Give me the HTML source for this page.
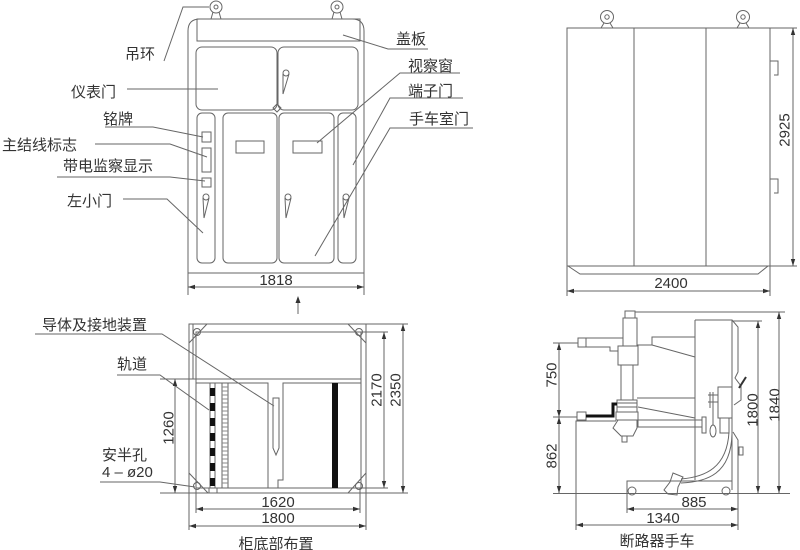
<!DOCTYPE html>
<html><head><meta charset="utf-8"><style>
html,body{margin:0;padding:0;background:#fff;}
svg{display:block;}
text{font-family:"Liberation Sans","Noto Sans CJK SC",sans-serif;fill:#333;font-size:15px;}
</style></head><body>
<svg width="800" height="550" viewBox="0 0 800 550" xmlns="http://www.w3.org/2000/svg">
<rect width="800" height="550" fill="#fff"/>
<g stroke="#666" stroke-width="1" fill="none">
<!-- ===== FRONT VIEW ===== -->
<circle cx="216" cy="7" r="6"/><circle cx="216" cy="7" r="2"/>
<path d="M211,19 L213,12 M221,19 L219,12"/>
<circle cx="337" cy="7" r="6"/><circle cx="337" cy="7" r="2"/>
<path d="M332,19 L334,12 M342,19 L340,12"/>
<path d="M188,295 V31 Q188,19 200,19 H352 Q364,19 364,31 V295"/>
<line x1="188" y1="273" x2="364" y2="273"/>
<rect x="197" y="19" width="163" height="22"/>
<rect x="196" y="47" width="81" height="63" rx="6"/>
<rect x="278" y="47" width="80" height="63" rx="6"/>
<path d="M277,104 L281,108 L277,112 L273,108 Z"/>
<rect x="197" y="113" width="18" height="150" rx="5"/>
<rect x="223" y="113" width="54" height="150" rx="5"/>
<rect x="279" y="113" width="55" height="150" rx="5"/>
<rect x="338" y="113" width="18" height="150" rx="5"/>
<rect x="236" y="141" width="28" height="12"/>
<rect x="293" y="141" width="29" height="12"/>
<rect x="202" y="132" width="9" height="10"/>
<rect x="202" y="148" width="9" height="24"/>
<rect x="202" y="178" width="9" height="9"/>
<!-- handles -->
<circle cx="206" cy="197" r="3"/><path d="M203,198 L204,218 L209,198"/>
<circle cx="288" cy="197" r="3"/><path d="M285,198 L286,218 L291,198"/>
<circle cx="346" cy="197" r="3"/><path d="M343,198 L344,218 L349,198"/>
<circle cx="286" cy="73" r="3"/><path d="M283,74 L283,94 L289,74"/>
<!-- leaders front -->
<path d="M164,61 L183,7 H209"/>
<path d="M127,89 H218"/>
<path d="M105,127 H153 L203,137"/>
<path d="M95,144 H170 L207,157"/>
<path d="M57,177 H170 L205,181"/>
<path d="M123,199 H167 L203,233"/>
<path d="M343,35 L388,49 H428"/>
<path d="M317,143 L400,73 H460"/>
<path d="M353,165 L390,98 H463"/>
<path d="M315,256 L390,128 H473"/>
<!-- 1818 dim -->
<line x1="188" y1="287" x2="364" y2="287"/>
<!-- up arrow -->
<line x1="298" y1="300" x2="298" y2="314"/>

<!-- ===== SIDE VIEW ===== -->
<circle cx="607" cy="17" r="6.5"/><circle cx="607" cy="17" r="2.2"/>
<path d="M601,28 L604,23 M613,28 L610,23"/>
<circle cx="743" cy="17" r="6.5"/><circle cx="743" cy="17" r="2.2"/>
<path d="M737,28 L740,23 M749,28 L746,23"/>
<rect x="567" y="28" width="203" height="238"/>
<line x1="634" y1="28" x2="634" y2="266"/>
<line x1="706" y1="28" x2="706" y2="266"/>
<path d="M568,266 L580,274 H758 L768,266"/>
<path d="M770,61 H778 V75 H774"/>
<path d="M770,179 H778 V193 H774"/>
<path d="M770,28 H797 M770,266 H797"/>
<line x1="793" y1="28" x2="793" y2="266"/>
<path d="M567,266 V296 M770,266 V296"/>
<line x1="567" y1="291" x2="770" y2="291"/>

<!-- ===== BOTTOM-LEFT PLAN ===== -->
<rect x="189" y="324" width="177" height="169"/>
<rect x="196" y="332" width="165" height="156"/>
<line x1="193" y1="324" x2="193" y2="379"/>
<path d="M189,343 L207,324 M348,324 L366,343 M189,473 L208,493 M348,493 L366,473"/>
<circle cx="197" cy="332" r="3.5"/><circle cx="359" cy="332" r="3.5"/>
<circle cx="197" cy="486" r="3.5"/><circle cx="359" cy="486" r="3.5"/>
<line x1="160" y1="379" x2="361" y2="379"/>
<line x1="160" y1="493" x2="189" y2="493"/>
<path d="M196,383 H268 V488 M361,383 H283 V480 H278 V488"/>
<rect x="210" y="383" width="5" height="105"/>
<rect x="222" y="383" width="6" height="105"/>
<path d="M222,387 H228 M222,391 H228 M222,395 H228 M222,399 H228 M222,403 H228 M222,407 H228 M222,411 H228 M222,415 H228 M222,419 H228 M222,423 H228 M222,427 H228 M222,431 H228 M222,435 H228 M222,439 H228 M222,443 H228 M222,447 H228 M222,451 H228 M222,455 H228 M222,459 H228 M222,463 H228 M222,467 H228 M222,471 H228 M222,475 H228 M222,479 H228 M222,483 H228" stroke="#888"/>
<rect x="209" y="488" width="8" height="5"/>
<path d="M273,398 H279 V448 L276,455 L273,448 Z"/>
<!-- leaders -->
<path d="M35,334 H162 L274,406"/>
<path d="M117,375 H160 L209,410"/>
<path d="M100,482 H160 L195,487"/>
<!-- dims -->
<line x1="175" y1="379" x2="175" y2="493"/>
<path d="M361,332 H388 M361,488 H388 M366,324 H408 M366,493 H408"/>
<line x1="384" y1="332" x2="384" y2="488"/>
<line x1="403" y1="324" x2="403" y2="493"/>
<path d="M196,488 V513 M360,488 V513 M189,493 V530 M366,493 V530"/>
<line x1="196" y1="509" x2="360" y2="509"/>
<line x1="189" y1="526" x2="366" y2="526"/>

<!-- ===== BOTTOM-RIGHT TRUCK ===== -->
<line x1="635" y1="312" x2="785" y2="312"/>
<rect x="625" y="311" width="10" height="7"/>
<rect x="623" y="318" width="14" height="28"/>
<rect x="618" y="346" width="20" height="19"/>
<rect x="621" y="365" width="12" height="35"/>
<rect x="617" y="400" width="20" height="12"/>
<path d="M617,403 H637 M617,407 H637"/>
<rect x="616" y="412" width="22" height="8"/>
<path d="M618,420 L613,428 L621,436 L633,436 L637,428 L637,420"/>
<rect x="622" y="436" width="5" height="6"/>
<rect x="578" y="338" width="8" height="9"/>
<path d="M586,338 H623 M586,347 H610 V351 H618"/>
<path d="M637,345 H652 V337 H695 M652,345 L695,357"/>
<path d="M637,398 H695 M638,407 L695,418"/>
<rect x="577" y="412" width="9" height="8"/>
<path d="M576,530 V421 H616"/>
<rect x="638" y="420" width="64" height="7"/>
<rect x="702" y="417" width="4" height="16"/>
<path d="M695,320 V480 M695,320 H732 V490"/>
<path d="M732,320 L738,327 V372 L735,378 L741,386 V400 L734,405"/>
<path d="M733,432 L738,440 V495"/>
<rect x="739" y="447" width="4" height="8"/>
<rect x="718" y="387" width="14" height="31"/>
<rect x="720" y="418" width="9" height="15"/>
<path d="M710,392 V408 M713,392 V408 M708,395 H718 M708,402 H718"/>
<line x1="713" y1="408" x2="713" y2="425"/>
<ellipse cx="713" cy="431" rx="3" ry="6"/>
<path d="M729,432 C727,468 705,477 681,479"/>
<path d="M732,434 C731,474 707,482 681,483"/>
<path d="M673,473 L683,477 L678,487 L677,495 L668,494 L664,490 L670,482 Z"/>
<path d="M627,495 V481 H732"/>
<circle cx="632" cy="491" r="4"/>
<circle cx="726" cy="491" r="4"/>
<line x1="553" y1="493.5" x2="790" y2="493.5"/>
<path d="M553,343 H578 M553,417 H577"/>
<line x1="559" y1="343" x2="559" y2="493"/>
<line x1="732" y1="321" x2="762" y2="321"/>
<line x1="758" y1="321" x2="758" y2="493"/>
<line x1="779" y1="312" x2="779" y2="493"/>
<path d="M627,495 V513 M738,493 V530"/>
<line x1="627" y1="509" x2="738" y2="509"/>
<line x1="576" y1="525" x2="738" y2="525"/>
</g>
<!-- black elements -->
<g fill="#111">
<rect x="210" y="388" width="5" height="8"/>
<rect x="210" y="403" width="5" height="8"/>
<rect x="210" y="418" width="5" height="8"/>
<rect x="210" y="433" width="5" height="8"/>
<rect x="210" y="448" width="5" height="8"/>
<rect x="210" y="463" width="5" height="8"/>
<rect x="210" y="478" width="5" height="8"/>
<rect x="332" y="383" width="6" height="105"/>
</g>
<path d="M586,416 H613 V404 H617" stroke="#111" stroke-width="3" fill="none"/>
<path d="M739,388 L746,377" stroke="#333" stroke-width="2" fill="none"/>
<!-- arrowheads -->
<g fill="#333">
<polygon points="188,287 195,284.8 195,289.2"/><polygon points="364,287 357,284.8 357,289.2"/>
<polygon points="298,296 295.5,303 300.5,303"/>
<polygon points="793,28 790.8,35 795.2,35"/><polygon points="793,266 790.8,259 795.2,259"/>
<polygon points="567,291 574,288.8 574,293.2"/><polygon points="770,291 763,288.8 763,293.2"/>
<polygon points="175,379 172.8,386 177.2,386"/><polygon points="175,493 172.8,486 177.2,486"/>
<polygon points="384,332 381.8,339 386.2,339"/><polygon points="384,488 381.8,481 386.2,481"/>
<polygon points="403,324 400.8,331 405.2,331"/><polygon points="403,493 400.8,486 405.2,486"/>
<polygon points="196,509 203,506.8 203,511.2"/><polygon points="360,509 353,506.8 353,511.2"/>
<polygon points="189,526 196,523.8 196,528.2"/><polygon points="366,526 359,523.8 359,528.2"/>
<polygon points="559,343 556.8,350 561.2,350"/><polygon points="559,417 556.8,410 561.2,410"/>
<polygon points="559,417 556.8,424 561.2,424"/><polygon points="559,493 556.8,486 561.2,486"/>
<polygon points="758,321 755.8,328 760.2,328"/><polygon points="758,493 755.8,486 760.2,486"/>
<polygon points="779,312 776.8,319 781.2,319"/><polygon points="779,493 776.8,486 781.2,486"/>
<polygon points="627,509 634,506.8 634,511.2"/><polygon points="738,509 731,506.8 731,511.2"/>
<polygon points="576,525 583,522.8 583,527.2"/><polygon points="738,525 731,522.8 731,527.2"/>
</g>
<!-- labels -->
<text x="125" y="59">吊环</text>
<text x="71" y="97">仪表门</text>
<text x="103" y="124">铭牌</text>
<text x="2" y="150">主结线标志</text>
<text x="63" y="171">带电监察显示</text>
<text x="67" y="206">左小门</text>
<text x="396" y="44">盖板</text>
<text x="408" y="71">视察窗</text>
<text x="408" y="96">端子门</text>
<text x="409" y="124">手车室门</text>
<text x="276" y="285" text-anchor="middle">1818</text>
<text x="671" y="288" text-anchor="middle">2400</text>
<text transform="translate(784,130) rotate(-90)" text-anchor="middle" dy="5.4">2925</text>
<text x="42" y="330">导体及接地装置</text>
<text x="117" y="369">轨道</text>
<text x="102" y="460">安半孔</text>
<text x="102" y="477">4 – ø20</text>
<text transform="translate(168,428) rotate(-90)" text-anchor="middle" dy="5.4">1260</text>
<text transform="translate(376,390) rotate(-90)" text-anchor="middle" dy="5.4">2170</text>
<text transform="translate(395,390) rotate(-90)" text-anchor="middle" dy="5.4">2350</text>
<text x="278" y="507" text-anchor="middle">1620</text>
<text x="278" y="523" text-anchor="middle">1800</text>
<text x="276" y="549" text-anchor="middle">柜底部布置</text>
<text transform="translate(551,375) rotate(-90)" text-anchor="middle" dy="5.4">750</text>
<text transform="translate(551,456) rotate(-90)" text-anchor="middle" dy="5.4">862</text>
<text transform="translate(752,410) rotate(-90)" text-anchor="middle" dy="5.4">1800</text>
<text transform="translate(774,405) rotate(-90)" text-anchor="middle" dy="5.4">1840</text>
<text x="694" y="507" text-anchor="middle">885</text>
<text x="663" y="523" text-anchor="middle">1340</text>
<text x="657" y="546" text-anchor="middle">断路器手车</text>
</svg>
</body></html>
